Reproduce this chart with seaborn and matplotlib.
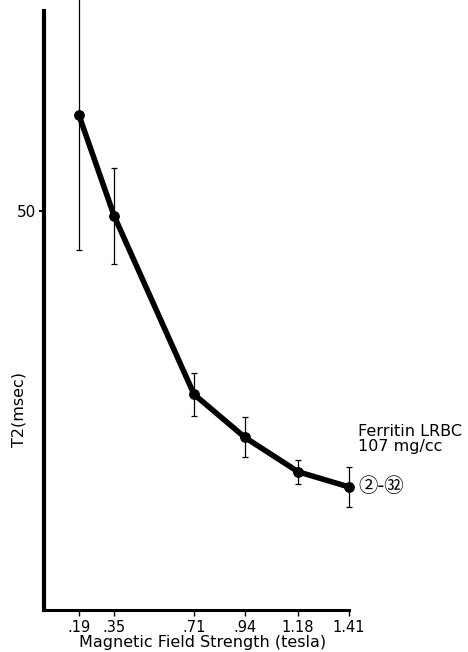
import matplotlib
matplotlib.use("Agg")
import matplotlib.pyplot as plt
import matplotlib.transforms as mtransforms
import numpy as np
import pandas as pd
import seaborn as sns

# Field strengths (tesla), mean T2 (msec) and standard deviation
field_tesla = [0.19, 0.35, 0.71, 0.94, 1.18, 1.41]
t2_msec = [62.0, 49.3, 27.0, 21.6, 17.3, 15.4]
t2_sd = [17.0, 6.0, 2.7, 2.5, 1.5, 2.5]
tick_labels = [".19", ".35", ".71", ".94", "1.18", "1.41"]
y_ticks = [50]

df = pd.DataFrame({"field": field_tesla, "t2": t2_msec, "sd": t2_sd})

sns.set_style("ticks")
plt.rcParams["font.family"] = ["DejaVu Sans", "Noto Sans CJK JP"]
plt.rcParams.update({
    "text.color": "black",
    "axes.labelcolor": "black",
    "axes.edgecolor": "black",
    "xtick.color": "black",
    "ytick.color": "black",
})

fig = plt.figure(figsize=(4.68, 6.52), dpi=100)
ax = fig.add_axes([0.094, 0.0644, 0.652, 0.919])

# thin error bars with small caps
eb = ax.errorbar(df["field"], df["t2"], yerr=df["sd"], fmt="none",
                 ecolor="black", elinewidth=0.9, capsize=2.2, capthick=0.9,
                 zorder=2)
for artist in eb.lines[1] + eb.lines[2]:
    artist.set_clip_on(False)

sns.lineplot(data=df, x="field", y="t2", ax=ax, color="black",
             linewidth=4.0, marker="o", markersize=7,
             markeredgecolor="black", markerfacecolor="black", zorder=3)
for line in ax.get_lines():
    line.set_clip_on(False)

ax.set_xlim(0.033, 1.41)
ax.set_ylim(0, 75)
ax.set_xticks(field_tesla)
ax.set_xticklabels(tick_labels)
ax.set_yticks(y_ticks)
ax.set_yticklabels([str(v) for v in y_ticks])

for side in ("top", "right"):
    ax.spines[side].set_visible(False)
ax.spines["left"].set_linewidth(3.0)
ax.spines["bottom"].set_linewidth(2.2)

ax.tick_params(axis="x", direction="out", length=4.5, width=1.0,
               labelsize=10.5, pad=3)
ax.tick_params(axis="y", direction="out", length=3.5, width=1.4,
               labelsize=11, pad=2)

ax.set_xlabel("Magnetic Field Strength (tesla)", fontsize=11.5)
ax.xaxis.set_label_coords(0.52, -0.0425)
ax.set_ylabel("T2(msec)", fontsize=11.5)
ax.yaxis.set_label_coords(-0.056, 0.335)

# legend-style annotation to the right of the last point
trans = mtransforms.blended_transform_factory(ax.transAxes, ax.transData)
ax.text(1.03, 21.4, "Ferritin LRBC\n107 mg/cc", transform=trans,
        fontsize=11.5, va="center", ha="left", linespacing=0.95,
        clip_on=False)
ax.text(1.03, 15.4, "\u2461-\u325c", transform=trans, fontsize=14,
        va="center", ha="left", clip_on=False,
        family=["Noto Sans CJK JP", "DejaVu Sans"])

fig.savefig("out.png", dpi=100)
